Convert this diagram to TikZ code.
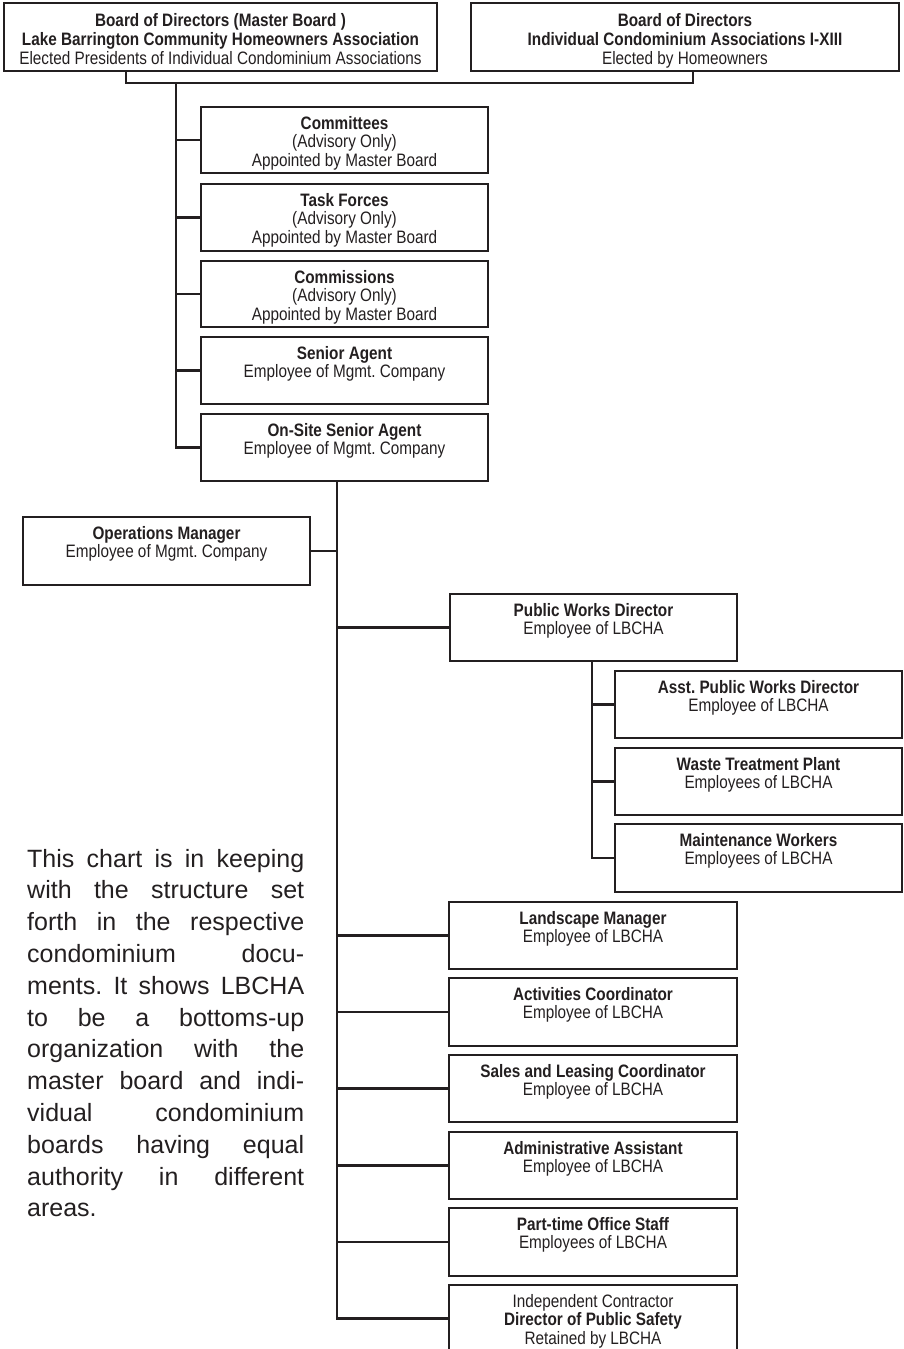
\documentclass[tikz,border=0pt]{standalone}
\usepackage{fontspec}
\newfontfamily\condfont{Liberation Sans}[FakeStretch=0.85]
\newfontfamily\parafont{Liberation Sans}
\definecolor{ink}{HTML}{231F20}
\frenchspacing
\tikzset{
  orgbox/.style={draw=ink, line width=1.3pt, inner sep=0pt, outer sep=0pt, text=ink,
    font=\condfont\fontsize{18pt}{18.9pt}\selectfont},
  link/.style={draw=ink, line width=2.9pt, line join=miter},
  paratext/.style={inner sep=0pt, text=ink, font=\parafont\fontsize{25pt}{31.8pt}\selectfont}
}
% name, x, y, width, height, strut, content
\newcommand{\obox}[7]{%
  \node[orgbox, anchor=north west] (#1) at (#2,#3)
    {\parbox[t][#5pt][t]{#4pt}{\centering\rule{0pt}{#6pt}#7}};}
\begin{document}
\begin{tikzpicture}[x=1pt,y=-1pt]
\useasboundingbox (0,0) rectangle (904,1349);

% top boards
\obox{master}{4}{3}{433}{68}{23.5}{\textbf{Board of Directors (Master Board )}\\\textbf{Lake Barrington Community Homeowners Association}\\Elected Presidents of Individual Condominium Associations}
\obox{indiv}{471}{3}{428}{68}{23.5}{\textbf{Board of Directors}\\\textbf{Individual Condominium Associations I-XIII}\\Elected by Homeowners}

% advisory column
\obox{com}{201}{107}{287}{66}{22}{\textbf{Committees}\\(Advisory Only)\\Appointed by Master Board}
\obox{task}{201}{184}{287}{67}{22}{\textbf{Task Forces}\\(Advisory Only)\\Appointed by Master Board}
\obox{commis}{201}{261}{287}{66}{22}{\textbf{Commissions}\\(Advisory Only)\\Appointed by Master Board}
\obox{senior}{201}{337}{287}{67}{22}{\textbf{Senior Agent}\\Employee of Mgmt. Company}
\obox{onsite}{201}{414}{287}{67}{22}{\textbf{On-Site Senior Agent}\\Employee of Mgmt. Company}

% operations
\obox{ops}{23}{517}{287}{68}{22}{\textbf{Operations Manager}\\Employee of Mgmt. Company}
\obox{pwd}{450}{594}{287}{67}{22}{\textbf{Public Works Director}\\Employee of LBCHA}
\obox{asst}{615}{671}{287}{67}{22}{\textbf{Asst. Public Works Director}\\Employee of LBCHA}
\obox{waste}{615}{748}{287}{67}{22}{\textbf{Waste Treatment Plant}\\Employees of LBCHA}
\obox{maint}{615}{824}{287}{68}{22}{\textbf{Maintenance Workers}\\Employees of LBCHA}

\obox{land}{449}{902}{288}{67}{22}{\textbf{Landscape Manager}\\Employee of LBCHA}
\obox{act}{449}{978}{288}{68}{22}{\textbf{Activities Coordinator}\\Employee of LBCHA}
\obox{sales}{449}{1055}{288}{67}{22}{\textbf{Sales and Leasing Coordinator}\\Employee of LBCHA}
\obox{admin}{449}{1132}{288}{67}{22}{\textbf{Administrative Assistant}\\Employee of LBCHA}
\obox{part}{449}{1208}{288}{68}{22}{\textbf{Part-time Office Staff}\\Employees of LBCHA}
\obox{ind}{449}{1285}{288}{67}{22}{Independent Contractor\\\textbf{Director of Public Safety}\\Retained by LBCHA}

% connector guide coordinates
\coordinate (busL) at (126,83);
\coordinate (busR) at (693,83);
\coordinate (sp1) at (176,83);
\coordinate (sp2) at (337,0);
\coordinate (sp3) at (592,0);

% top bus
\draw[link] (busL |- master.south) -- (busL) -- (busR) -- (busR |- indiv.south);
% advisory spine
\draw[link] (sp1) |- (onsite.west);
\foreach \b in {com,task,commis,senior}
  \draw[link] (sp1 |- \b.west) -- (\b.west);
% main spine
\draw[link] (sp2 |- onsite.south) |- (ind.west);
\draw[link] (sp2 |- ops.east) -- (ops.east);
\foreach \b in {pwd,land,act,sales,admin,part}
  \draw[link] (sp2 |- \b.west) -- (\b.west);
% public works spine
\draw[link] (sp3 |- pwd.south) |- (maint.west);
\foreach \b in {asst,waste}
  \draw[link] (sp3 |- \b.west) -- (\b.west);

% note
\node[paratext, anchor=base west] (note) at (27,867) {\parbox[t]{277pt}{%
\hbox to\hsize{This chart is in keeping}
\hbox to\hsize{with the structure set}
\hbox to\hsize{forth in the respective}
\hbox to\hsize{condominium docu-}
\hbox to\hsize{ments. It shows LBCHA}
\hbox to\hsize{to be a bottoms-up}
\hbox to\hsize{organization with the}
\hbox to\hsize{master board and indi-}
\hbox to\hsize{vidual condominium}
\hbox to\hsize{boards having equal}
\hbox to\hsize{authority in different}
\hbox{areas.}}};
\end{tikzpicture}
\end{document}
